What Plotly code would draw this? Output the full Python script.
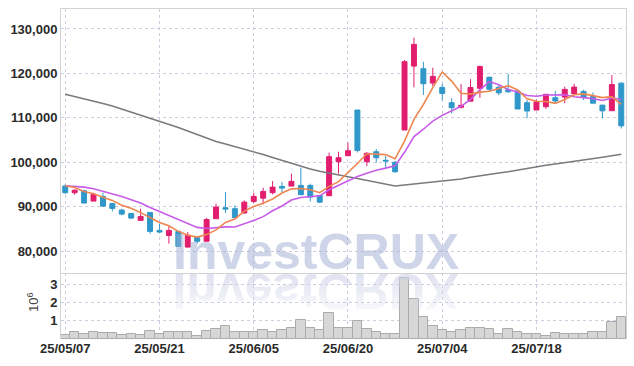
import base64
import plotly.graph_objects as go
from plotly.subplots import make_subplots

dates = ["2025-05-07", "2025-05-08", "2025-05-09", "2025-05-12", "2025-05-13", "2025-05-14", "2025-05-15", "2025-05-16",
         "2025-05-19", "2025-05-20", "2025-05-21", "2025-05-22", "2025-05-23", "2025-05-26", "2025-05-27", "2025-05-28",
         "2025-05-29", "2025-05-30", "2025-06-02", "2025-06-04", "2025-06-05", "2025-06-09", "2025-06-10", "2025-06-11",
         "2025-06-12", "2025-06-13", "2025-06-16", "2025-06-17", "2025-06-18", "2025-06-19", "2025-06-20", "2025-06-23",
         "2025-06-24", "2025-06-25", "2025-06-26", "2025-06-27", "2025-06-30", "2025-07-01", "2025-07-02", "2025-07-03",
         "2025-07-04", "2025-07-07", "2025-07-08", "2025-07-09", "2025-07-10", "2025-07-11", "2025-07-14", "2025-07-15",
         "2025-07-16", "2025-07-17", "2025-07-18", "2025-07-21", "2025-07-22", "2025-07-23", "2025-07-24", "2025-07-25",
         "2025-07-28", "2025-07-29", "2025-07-30", "2025-07-31"]

open_ = [94640, 93130, 93580, 91240, 92300, 90720, 89210, 88470, 86900, 88690,
         84640, 83510, 84420, 80880, 83100, 82200, 87270, 89750, 89530, 88540,
         91170, 91910, 93130, 94550, 94620, 94770, 94770, 92520, 92450, 100110,
         101460, 111750, 100110, 102360, 100430, 99980, 107250, 121640, 121060, 117820,
         116840, 113400, 112350, 113740, 116650, 119120, 116890, 116310, 116030, 113400,
         111750, 112500, 114530, 114660, 115420, 115940, 114800, 112860, 111600, 117790]
high = [95000, 93870, 93800, 93130, 93130, 90720, 89530, 88470, 89530, 88690,
        86150, 85600, 84420, 84260, 83300, 87470, 90650, 93270, 90270, 91400,
        93130, 94250, 95740, 95520, 97410, 98770, 95160, 92520, 102140, 102360,
        104390, 111750, 102300, 102970, 101400, 100270, 123010, 128040, 122630, 121280,
        117670, 114400, 117590, 118670, 121800, 119300, 117300, 119860, 116500, 114000,
        114100, 115290, 116030, 117000, 117670, 116300, 115700, 112860, 119600, 118000]
low = [92840, 92680, 90800, 91240, 89900, 88920, 88020, 87190, 86900, 83900,
       84120, 81650, 81040, 80880, 81650, 82200, 87270, 88540, 87500, 88540,
       90790, 90500, 92750, 93270, 94620, 92680, 91170, 90800, 92450, 97410,
       101460, 102200, 99100, 99890, 98770, 97600, 107250, 116870, 115130, 117140,
       113930, 111020, 112100, 113740, 114500, 116000, 115130, 115600, 111980, 109890,
       111750, 112000, 113300, 113260, 115420, 114000, 113290, 109890, 111600, 107600]
close = [93130, 93700, 90800, 92810, 90110, 89600, 88310, 87410, 87790, 84420,
         84260, 84640, 81040, 83510, 82200, 87100, 89890, 89440, 87500, 91010,
         92300, 93420, 94390, 94170, 95680, 92680, 92140, 91010, 101240, 101010,
         102590, 102660, 102000, 101010, 100270, 97860, 122630, 126530, 117670, 119330,
         115490, 112270, 112800, 116820, 121530, 116420, 115620, 115850, 111980, 111530,
         113630, 115290, 113780, 116390, 116910, 114570, 113290, 111570, 117490, 108190]

ma5 = [94700, 94320, 93420, 92900, 92110, 91404, 90326, 89648, 88644, 87506,
       86438, 85704, 84430, 83574, 83130, 83698, 84748, 86428, 87226, 88988,
       90028, 90734, 91724, 93058, 93992, 94068, 93812, 93136, 94550, 95616,
       97598, 99702, 101900, 101854, 101706, 100760, 104754, 109660, 112992, 116804,
       120330, 118258, 115512, 115342, 115782, 115968, 116638, 117248, 116280, 114280,
       113722, 113656, 113242, 114124, 115200, 115388, 114988, 114546, 114766, 113022]
ma10 = [94700, 94620, 94390, 94030, 93490, 92900, 92300, 91550, 90800, 89808,
        88921, 88015, 87039, 86109, 85318, 85068, 85226, 85429, 85400, 86059,
        86863, 87741, 89076, 90142, 91490, 92048, 92273, 92430, 93804, 94804,
        95833, 96757, 97518, 98202, 98661, 99179, 102228, 105780, 107423, 109255,
        110545, 111506, 112586, 114167, 116293, 118149, 117448, 116380, 115811, 115031,
        114845, 115147, 115245, 115202, 114740, 114555, 114322, 113894, 114445, 114111]
ma_long = [115290, 114800, 114300, 113780, 113220, 112660, 111980, 111300, 110630, 109950,
           109280, 108600, 107810, 107030, 106240, 105450, 104660, 104100, 103540, 102970,
           102360, 101730, 101060, 100380, 99710, 99030, 98470, 97970, 97500, 97120,
           96730, 96330, 95880, 95430, 95020, 94640, 94870, 95090, 95320, 95540,
           95770, 95950, 96220, 96600, 96960, 97280, 97570, 97860, 98240, 98600,
           98990, 99300, 99590, 99930, 100230, 100500, 100810, 101130, 101440, 101780]

volume = [0.20, 0.36, 0.25, 0.36, 0.31, 0.31, 0.23, 0.25, 0.23, 0.42,
          0.25, 0.36, 0.36, 0.36, 0.18, 0.45, 0.54, 0.69, 0.38, 0.41,
          0.36, 0.47, 0.39, 0.47, 0.58, 1.02, 0.63, 0.47, 1.40, 0.58,
          0.63, 0.98, 0.53, 0.37, 0.25, 0.25, 3.33, 2.17, 1.22, 0.72,
          0.49, 0.38, 0.49, 0.58, 0.58, 0.53, 0.25, 0.54, 0.41, 0.25,
          0.25, 0.18, 0.31, 0.30, 0.30, 0.25, 0.36, 0.36, 0.91, 1.20]
volume = [v * 1e6 for v in volume]

price_ticks = [80000, 90000, 100000, 110000, 120000, 130000]
vol_ticks = [1e6, 2e6, 3e6]
vol_ticktext = ["1", "2", "3"]
date_tickvals = dates[0::10]
date_ticktext = [d[2:].replace("-", "/") for d in date_tickvals]

RED = "#e21d6e"
BLUE = "#2f97c9"
GRID = "#ccceDF"
LINE = "#d2d2d2"
FONT = "Liberation Sans Narrow, Liberation Sans, Arial, sans-serif"

fig = make_subplots(rows=2, cols=1, shared_xaxes=True, vertical_spacing=0, row_heights=[0.8, 0.2])

fig.add_trace(go.Candlestick(
    x=dates, open=open_, high=high, low=low, close=close,
    increasing=dict(line=dict(color=RED, width=1), fillcolor=RED),
    decreasing=dict(line=dict(color=BLUE, width=1), fillcolor=BLUE),
    whiskerwidth=0, showlegend=False, hoverinfo="skip"), row=1, col=1)
fig.add_trace(go.Scatter(x=dates, y=ma_long, mode="lines", line=dict(color="#7a7a7a", width=1.6),
                         showlegend=False, hoverinfo="skip"), row=1, col=1)
fig.add_trace(go.Scatter(x=dates, y=ma10, mode="lines", line=dict(color="#c85be8", width=1.6),
                         showlegend=False, hoverinfo="skip"), row=1, col=1)
fig.add_trace(go.Scatter(x=dates, y=ma5, mode="lines", line=dict(color="#ee8650", width=1.6),
                         showlegend=False, hoverinfo="skip"), row=1, col=1)
fig.add_trace(go.Bar(x=dates, y=volume, marker=dict(color="#d7d7d7", line=dict(color="#ababab", width=1)),
                     showlegend=False, hoverinfo="skip"), row=2, col=1)

tickfont = dict(family=FONT, size=13, color="#2a2a2a", weight="bold")

fig.update_xaxes(type="category", range=[-0.45, 59.5], tickvals=date_tickvals, ticktext=date_ticktext,
                 showgrid=True, gridcolor=GRID, griddash="dot", gridwidth=1, ticks="",
                 rangeslider=dict(visible=False), tickfont=tickfont, zeroline=False, automargin=False)
fig.update_xaxes(showline=True, mirror=True, linecolor=LINE, linewidth=1, showticklabels=False, row=1, col=1)
fig.update_xaxes(showline=False, row=2, col=1)

fig.update_yaxes(range=[75050, 134500], tickvals=price_ticks, tickformat=",", showgrid=True,
                 gridcolor=GRID, griddash="dot", gridwidth=1, showline=True, mirror=True,
                 linecolor=LINE, linewidth=1, ticks="", tickfont=tickfont, zeroline=False,
                 automargin=False, row=1, col=1)
fig.update_yaxes(range=[0, 3.62e6], tickvals=vol_ticks, ticktext=vol_ticktext, showgrid=True,
                 gridcolor=GRID, griddash="dot", gridwidth=1, showline=True, mirror=True,
                 linecolor=LINE, linewidth=1, ticks="", tickfont=tickfont, zeroline=False,
                 automargin=False, row=2, col=1)

# watermark reflection (mirrored text) as an SVG image
svg = ("<svg xmlns='http://www.w3.org/2000/svg' width='340' height='48'>"
       "<defs><linearGradient id='g' x1='0' y1='0' x2='0' y2='1'>"
       "<stop offset='0' stop-color='#fff' stop-opacity='0.85'/>"
       "<stop offset='1' stop-color='#fff' stop-opacity='0'/></linearGradient>"
       "<mask id='m'><rect width='340' height='48' fill='url(#g)'/></mask></defs>"
       "<g mask='url(#m)'><text x='170' y='0' text-anchor='middle' font-family='Liberation Sans, Arial' "
       "font-weight='bold' font-size='50' fill='rgb(205,211,232)' transform='scale(1,-1)'>InvestCRUX</text></g></svg>")
src = "data:image/svg+xml;base64," + base64.b64encode(svg.encode()).decode()

W, H = 634, 366
L, R, T, B = 61, 8, 9, 27
pw, ph = W - L - R, H - T - B


def px(x):
    return (x - L) / pw


def py(y):
    return (H - B - y) / ph


fig.add_layout_image(dict(source=src, xref="paper", yref="paper", x=px(315.5 - 170), y=py(274),
                          sizex=340 / pw, sizey=48 / ph, xanchor="left", yanchor="top",
                          sizing="stretch", layer="above", opacity=0.75))

fig.add_annotation(text="InvestCRUX", xref="paper", yref="paper", x=px(315.5), y=py(252),
                   xanchor="center", yanchor="middle", showarrow=False,
                   font=dict(family="Liberation Sans, Arial, sans-serif", size=50, weight="bold",
                             color="rgba(160,172,212,0.5)"))
fig.add_annotation(text="10<sup>6</sup>", xref="paper", yref="paper", x=px(33), y=py(302),
                   xanchor="center", yanchor="middle", showarrow=False, textangle=-90,
                   font=dict(family=FONT, size=13, color="#444"))

fig.update_layout(width=W, height=H, margin=dict(l=L, r=R, t=T, b=B), plot_bgcolor="white",
                  paper_bgcolor="white", bargap=0, boxgap=0.25, showlegend=False, hovermode=False)

fig.write_html("out.html", config={"displayModeBar": False},
               post_script="document.body.style.margin='0';")
